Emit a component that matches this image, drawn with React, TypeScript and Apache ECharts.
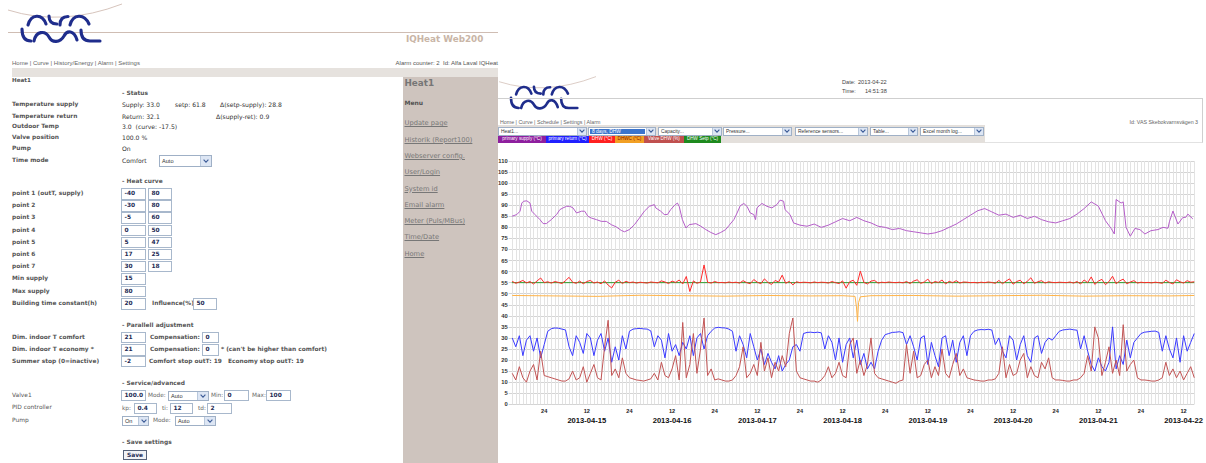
import React, { useEffect, useRef } from "react";
import * as echarts from "echarts";

// ---------------- chart data (hours since 2013-04-14 00:00) ----------------
const X_MIN = 14;
const X_MAX = 207;
const dateLabels = ["2013-04-15", "2013-04-16", "2013-04-17", "2013-04-18", "2013-04-19", "2013-04-20", "2013-04-21", "2013-04-22"];
const seriesNames = ["primary supply (°C)", "primary return (°C)", "DHW (°C)", "DHWC (°C)", "Valve DHW (%)", "DHW Setp (°C)"];

const hourlyStart = 15; // hourly samples 15..207

const returnValues = [
  30, 26, 31, 22, 29, 31, 24, 30, 21, 27,
  33, 34.2, 34.5, 34.4, 34, 33.6,
  26,
  22, 31, 28, 23, 32, 30, 22, 29, 32, 24, 30,
  19, 26, 20,
  31, 25, 33,
  34, 34.2, 34.3, 34.1, 34, 33.2,
  26, 31, 29, 21, 32, 24, 27, 22, 28, 25, 31, 22, 30, 32, 25, 31,
  33, 34.5, 34.8, 34.6, 34.5, 34, 33,
  24, 31, 27, 21, 32, 26, 20, 25, 18, 23, 19, 16, 22, 15, 18, 20,
  26, 27, 24,
  32, 32.5, 32.6, 32.4, 32.6, 32.3,
  25, 31, 28, 20, 30, 19, 27, 30, 21, 29, 18, 23, 16, 19, 16,
  24, 29, 31.5,
  32, 32.5, 32.6, 32.8, 32.4, 27,
  31, 26, 20, 30, 31, 18, 28, 22, 17, 30, 31, 22, 29, 19, 28, 31, 22,
  31, 33, 33.6, 33.8, 33.7, 33.9, 33.6, 27,
  30, 24, 21, 31, 29, 20, 27, 31, 22, 19, 30, 31, 23, 28,
  30, 29, 31, 33, 33.6, 33.8, 34, 33.7, 33.5, 25,
  31, 24, 18, 15, 21, 17, 15, 19, 35, 16, 22, 18, 29, 21, 28, 30,
  32, 32.6, 32.8, 33, 33.1, 32.5, 24,
  31, 25, 21, 30, 19, 31, 24, 28, 32,
];

const valveValues = [
  14, 11, 17, 12, 10, 15, 18, 11, 24, 13,
  12.5, 12, 11.5, 11, 10.5, 10.5, 11.5,
  15, 11, 12, 17, 10, 14, 18, 12, 11, 26, 38, 13, 16, 12, 21, 14, 12,
  11.5, 11, 10.8, 10.5, 11, 11.5,
  14, 11, 19, 13, 12, 16, 22, 11, 37, 12, 18, 32, 14, 25, 39, 13, 16, 11,
  11.5, 11, 10.5, 10.5, 11,
  13, 17, 26, 12, 14, 18, 13, 28, 15, 21, 12, 19, 15, 22, 17, 32, 39, 15, 12,
  11.5, 11, 10.5, 10.5, 10, 11,
  13, 17, 12, 14, 19, 13, 12, 27, 30, 14, 20, 13, 18, 30, 14, 12,
  11.5, 11, 10.5, 10, 9.5, 10.5, 11,
  27, 14, 24, 12, 13, 18, 20, 12, 17, 13, 25, 14, 12, 18, 23, 13, 16, 12,
  11.5, 11, 10.8, 10.5, 10.5, 11, 11, 11.5,
  14, 26, 12, 18, 13, 14, 20, 23, 12, 17, 13, 12, 19, 16, 21, 12,
  11, 11, 10.8, 10.5, 10.5, 11, 11, 12,
  14, 22, 15, 35, 30, 13, 19, 26, 14, 20, 13, 36, 15, 18, 20, 12,
  11, 11, 10.8, 10.5, 10.5, 11, 12,
  19, 13, 16, 12, 15, 11, 14, 17, 12,
];

const dhwValues = [
  55.6, 54.7, 55.3, 56.0, 54.9, 55.5, 54.4, 55.8, 57.1, 55.0, 55.4, 54.8, 55.5, 55.1, 54.6, 55.9, 57.4, 55.2, 54.7, 55.7, 54.5, 55.5, 56.0, 54.8,
  55.3, 54.5, 55.8, 53.9, 52.6, 55.2, 56.1, 54.6, 55.6, 55.0, 55.3, 54.8, 55.2, 55.0, 54.8, 55.3, 55.1, 54.9, 55.8, 55.3, 54.6, 55.7, 55.1, 56.2,
  54.4, 57.8, 51.0, 55.8, 54.7, 55.3, 63.0, 55.2, 54.8, 55.5, 55.0, 55.1, 54.9, 55.3, 55.0, 55.2, 54.8, 55.9, 55.0, 54.5, 56.4, 55.2, 54.5, 56.7,
  55.1, 54.2, 56.0, 55.3, 58.4, 54.7, 55.6, 54.0, 55.4, 55.0, 55.2, 55.1, 54.9, 55.3, 55.0, 55.2, 55.1, 54.8, 55.5, 55.0, 54.6, 55.8, 52.5, 55.4,
  56.1, 53.8, 60.2, 55.1, 54.4, 55.7, 56.0, 54.8, 55.2, 55.0, 55.3, 55.1, 55.0, 55.2, 54.9, 55.5, 54.6, 55.7, 56.3, 54.7, 55.3, 56.6, 54.6, 55.5,
  55.1, 56.2, 54.4, 55.6, 55.0, 55.9, 54.8, 55.3, 55.2, 55.0, 55.1, 54.9, 55.2, 55.0, 55.3, 55.1, 54.7, 56.0, 54.5, 55.7, 56.7, 54.3, 55.5, 56.1,
  54.5, 55.6, 57.2, 54.7, 55.4, 55.9, 54.8, 55.4, 55.1, 55.0, 55.2, 55.1, 55.0, 55.3, 54.8, 55.5, 54.4, 56.2, 55.0, 57.6, 54.2, 55.7, 56.5, 54.1,
  55.5, 57.9, 54.5, 55.8, 56.6, 54.5, 55.3, 55.9, 54.8, 55.2, 55.0, 55.1, 54.9, 55.2, 55.0, 54.7, 56.1, 55.1, 54.4, 56.3, 55.4, 54.8, 55.9, 55.2,
  55.4,
];

const supplyHours = [
  14.9, 16.3, 17.2, 17.7, 18.2, 19.1, 20, 20.5, 21.4, 22.8, 23.7, 24.6, 26, 27.5, 28.4, 29.3, 30.3, 31.2, 32.1, 33.1,
  34.5, 35.4, 36.3, 37.3, 38.7, 40.1, 41.5, 42.9, 44.3, 45.7, 46.6, 48, 49.4, 50.8, 52.2, 53.6, 55, 55.4, 56.8, 57.8,
  58.7, 59.6, 60.6, 61.5, 62, 62.9, 63.9, 64.8, 66.7, 68.1, 69.5, 70.9, 72.3, 73.7, 75.1, 76, 77.4, 78.3, 79.2, 80.2,
  81.1, 82, 83, 83.5, 83.9, 84.9, 85.3, 86.7, 88.1, 89.5, 90.4, 91.4, 91.8, 93.2, 94.2,
  96, 98, 100, 102, 104, 106, 108, 110, 112, 114, 116, 118, 120, 122, 124, 126, 128, 130, 132, 134,
  136, 138, 140, 142, 144, 146, 148, 150, 152, 154, 156, 158, 160, 162, 164, 166, 168, 170, 172, 174,
  176, 178, 180, 182, 183.6, 184.5, 185, 186.4, 187, 187.8, 189, 190.3, 191.7, 193.1, 194.8, 196.8, 198.2, 199.6, 200, 201,
  202.4, 203.8, 204.6, 205.2, 206.6,
];
const supplyValues = [
  85, 85.8, 87.3, 91, 91.8, 92, 91, 87.3, 85.8, 83.5, 81.7, 81.7, 83.5, 85.8, 88, 88.8, 89.5, 89.5, 88.8, 86.5,
  87.3, 87.3, 85, 84.2, 83.5, 82.7, 82.7, 81.2, 80.2, 78.6, 78, 79, 81.2, 84.2, 87.3, 89.5, 90.3, 88.8, 87.3, 85.8,
  85.8, 88, 89.8, 91, 89.5, 83.5, 79.7, 81.2, 81.7, 80.5, 79, 77.7, 76.7, 77.7, 79, 80.8, 83.5, 86.5, 89.8, 90.8,
  89.5, 86.5, 85.8, 83.5, 88.8, 90.3, 90.8, 89.5, 88.8, 90.3, 92.3, 91.8, 88, 85.8, 82,
  81, 80.5, 81.5, 80, 81, 82.5, 84, 83, 84.5, 83, 82, 80.5, 80, 79, 79.5, 78.5, 78, 77.5, 77, 77.5,
  78.5, 80, 81.5, 83.5, 85.5, 87.5, 88.5, 87, 85.5, 86, 84.5, 85.5, 84, 85, 83.5, 82.5, 82, 83, 84, 86,
  88.5, 91.5, 89.6, 83, 79.5, 77, 92.6, 91, 91.5, 80, 76, 79.5, 79, 77, 78.5, 79, 80, 79.6, 82.5, 87.4,
  81.5, 84.5, 84.5, 86, 83.8,
];

const dhwcHours = [15, 27, 39, 51, 63, 75, 87, 99, 108, 111.5, 111.9, 112.2, 112.5, 113, 116, 128, 140, 152, 164, 176, 188, 200, 207];
const dhwcValues = [49.2, 49.0, 48.8, 49.3, 49.1, 48.9, 49.2, 49.0, 49.1, 48.8, 44, 37.5, 46, 48.6, 49.1, 49.2, 48.9, 49.1, 49.3, 48.9, 49.1, 49.0, 49.2];

const setpHours = [14.9, 207];
const setpValues = [55, 55];

const heatCurve = [[-40, 80], [-30, 80], [-5, 60], [0, 50], [5, 47], [17, 25], [30, 18]];
const menuLinks = ["Update page", "Historik (Report100)", "Webserver config.", "User/Login", "System id", "Email alarm", "Meter (Puls/MBus)", "Time/Date", "Home"];
const selectTexts = ["Heat1...", "8 days, DHW", "Capacity...", "Pressure...", "Reference sensors...", "Table...", "Excel month log..."];

// ---------------- styling helpers ----------------
const VERD = "'DejaVu Sans', Verdana, sans-serif";
const ARIAL = "'Liberation Sans', Arial, sans-serif";

function T(props: any) {
  const { x, y, s = 5.9, b = false, c = "#555", f = VERD, u = false, right, children } = props;
  const st: any = {
    position: "absolute",
    top: y - s,
    height: s * 2,
    lineHeight: `${s * 2}px`,
    fontSize: s,
    fontWeight: b ? "bold" : "normal",
    color: c,
    fontFamily: f,
    whiteSpace: "pre",
    textDecoration: u ? "underline" : "none",
  };
  if (right !== undefined) st.right = right;
  else st.left = x;
  return <div style={st}>{children}</div>;
}

function Box(props: any) {
  const { x, y, w, h = 11.5, text } = props;
  return (
    <div
      style={{
        position: "absolute",
        left: x,
        top: y - h / 2,
        width: w,
        height: h,
        boxSizing: "border-box",
        border: "1px solid #a8b8cc",
        background: "#fff",
        fontFamily: VERD,
        fontWeight: "bold",
        fontSize: 5.9,
        color: "#1d2b55",
        lineHeight: `${h - 2}px`,
        paddingLeft: 2.5,
        whiteSpace: "pre",
      }}
    >
      {text}
    </div>
  );
}

function Chev() {
  return (
    <svg width="6" height="4" viewBox="0 0 6 4" style={{ display: "block" }}>
      <path d="M0.6 0.6 L3 3.2 L5.4 0.6" fill="none" stroke="#3d5c98" strokeWidth="1.1" />
    </svg>
  );
}

function Sel(props: any) {
  const { x, y, w, h = 12, text, s = 5.6, hi = false, aw = 10 } = props;
  return (
    <div
      style={{
        position: "absolute",
        left: x,
        top: y,
        width: w,
        height: h,
        boxSizing: "border-box",
        border: "1px solid #9fb0c6",
        background: "#fff",
        overflow: "hidden",
      }}
    >
      <div
        style={{
          position: "absolute",
          left: hi ? 1 : 0,
          top: hi ? 1 : 0,
          right: aw + (hi ? 2 : 0),
          bottom: hi ? 1 : 0,
          background: hi ? "#3b74cc" : "transparent",
          color: hi ? "#fff" : "#333",
          fontFamily: ARIAL,
          fontSize: s,
          lineHeight: `${h - (hi ? 4 : 2)}px`,
          paddingLeft: 2,
          whiteSpace: "pre",
        }}
      >
        {text}
      </div>
      <div
        style={{
          position: "absolute",
          right: 0,
          top: 0,
          width: aw,
          height: "100%",
          background: "#dde6f4",
          borderLeft: "1px solid #b9c8dc",
          display: "flex",
          alignItems: "center",
          justifyContent: "center",
        }}
      >
        <Chev />
      </div>
    </div>
  );
}

function LogoPaths() {
  const st = { fill: "none", stroke: "#1f2d8c", strokeWidth: 3.1, strokeLinecap: "round" as const, strokeLinejoin: "round" as const };
  return (
    <g>
      <path d="M8,10 Q62,27 122,4" fill="none" stroke="#cbb5ab" strokeWidth="0.8" />
      <path d="M28,25 C31,14 42,13 46,24" {...st} />
      <path d="M49,16 Q49,24 57,24" {...st} />
      <path d="M60,25 Q60,16.5 68,16.5" {...st} />
      <path d="M70,25 C73,14 84,13 89,24" {...st} />
      <path d="M22,29 Q22,41 31,41" {...st} />
      <path d="M34,41 C36,31 45,30 49,37 C52,43 60,43 64,36 C67,30 74,30 77,40" {...st} />
      <path d="M81,30 Q81,41 90,41 L100,41" {...st} />
    </g>
  );
}

// ---------------- chart ----------------
function Chart() {
  const ref = useRef<HTMLDivElement>(null);
  useEffect(() => {
    const chart = echarts.init(ref.current as HTMLDivElement, null, { renderer: "svg" });
    const hourly = returnValues.map((_, i) => hourlyStart + i);
    const zip = (xs: number[], ys: number[]) => xs.map((x, i) => [x, ys[i]]);
    const line = (name: string, data: any[], color: string, z: number) => ({
      name,
      type: "line",
      data,
      symbol: "none",
      showSymbol: false,
      silent: true,
      z,
      lineStyle: { width: 1, color },
      itemStyle: { color },
    });
    chart.setOption({
      animation: false,
      textStyle: { fontFamily: ARIAL },
      grid: { left: 11.9, right: 9.5, top: 16, bottom: 58.7, containLabel: false },
      xAxis: {
        type: "value",
        min: X_MIN,
        max: X_MAX,
        interval: 1,
        axisLine: { show: false },
        axisTick: { show: false },
        splitLine: { show: true, showMinLine: false, lineStyle: { color: "#e3e3e3", width: 1 } },
        axisLabel: {
          margin: 3,
          showMinLabel: true,
          showMaxLabel: true,
          formatter: (v: number) => {
            const r = Math.round(v) % 24;
            if (r === 0) return "{h|24}";
            if (r === 12) return "{h|12}\n{d|" + dateLabels[Math.floor(v / 24) - 1] + "}";
            return "";
          },
          rich: {
            h: { fontSize: 5.6, fontWeight: "bold", color: "#222", lineHeight: 8, fontFamily: ARIAL },
            d: { fontSize: 7.6, fontWeight: "bold", color: "#111", lineHeight: 10, fontFamily: ARIAL },
          },
        },
      },
      yAxis: {
        type: "value",
        min: 0,
        max: 110,
        interval: 5,
        axisLine: { show: false },
        axisTick: { show: false },
        splitLine: { show: true, lineStyle: { color: "#d4d4d4", width: 1 } },
        axisLabel: { fontSize: 5.8, fontWeight: "bold", color: "#333", margin: 1, fontFamily: ARIAL },
      },
      series: [
        line(seriesNames[5], zip(setpHours, setpValues), "#2e9e2e", 2),
        line(seriesNames[0], zip(supplyHours, supplyValues), "#b45ec8", 3),
        line(seriesNames[2], zip(hourly, dhwValues), "#ff2b2b", 4),
        line(seriesNames[3], zip(dhwcHours, dhwcValues), "#ffb347", 5),
        line(seriesNames[1], zip(hourly, returnValues), "#3a3aff", 6),
        line(seriesNames[4], zip(hourly, valveValues), "#c25454", 7),
      ],
    });
    return () => chart.dispose();
  }, []);
  return <div ref={ref} style={{ position: "absolute", left: 495, top: 145, width: 711, height: 318 }} />;
}

// ---------------- page ----------------
export default function App() {
  const labelRows: [string, number, boolean][] = [
    ["Temperature supply", 105, true],
    ["Temperature return", 116.7, true],
    ["Outdoor Temp", 127.2, true],
    ["Valve position", 138, true],
    ["Pump", 149, true],
    ["Time mode", 160.7, true],
    ["point 1 (outT, supply)", 194, true],
    ["point 2", 206.1, true],
    ["point 3", 218.3, true],
    ["point 4", 230.5, true],
    ["point 5", 242.7, true],
    ["point 6", 254.9, true],
    ["point 7", 266.6, true],
    ["Min supply", 279, true],
    ["Max supply", 291.6, true],
    ["Building time constant(h)", 304, true],
    ["Dim. indoor T comfort", 337.7, true],
    ["Dim. indoor T economy *", 350, true],
    ["Summer stop (0=inactive)", 361.7, true],
    ["Valve1", 395.7, false],
    ["PID controller", 408.3, false],
    ["Pump", 421, false],
  ];
  const legendColors = [
    ["#8e1f9e", "#fff"],
    ["#2020ff", "#fff"],
    ["#ff2020", "#fff"],
    ["#f2a024", "#8a1500"],
    ["#c0504f", "#fff"],
    ["#1e8a1e", "#fff"],
  ];
  const legendX = [498, 546, 589, 615, 644, 684, 721];
  const selX = [498, 588, 658, 723, 795, 870, 920];
  const selW = [89, 68, 64, 69, 73, 48, 64];

  return (
    <div
      style={{
        position: "fixed",
        left: 0,
        top: 0,
        width: 1206,
        height: 463,
        overflow: "hidden",
        background: "#fff",
        fontFamily: VERD,
      }}
    >
      {/* ---------- left page header ---------- */}
      <div style={{ position: "absolute", left: 8, top: 32, width: 490, height: 1, background: "#cfbdb3" }} />
      <svg width="200" height="50" style={{ position: "absolute", left: 0, top: 0 }}>
        <LogoPaths />
      </svg>
      <T x={406} y={40} s={8.8} b c="#c9b5a6">IQHeat Web200</T>
      <T x={12} y={63} s={6} f={ARIAL} c="#666">Home | Curve | History/Energy | Alarm | Settings</T>
      <T right={1206 - 498} y={63} s={6} f={ARIAL} c="#555">Alarm counter: 2  Id: Alfa Laval IQHeat</T>
      <div style={{ position: "absolute", left: 12, top: 68, width: 486, height: 9, background: "#e6e2de" }} />

      {/* ---------- left form ---------- */}
      <T x={12} y={81} s={5.6} b c="#555">Heat1</T>
      <T x={122} y={94} b>- Status</T>
      {labelRows.map(([t, y, b], i) => (
        <T key={i} x={12} y={y} b={b} c="#555">{t}</T>
      ))}
      <T x={122} y={105} s={6.1} c="#333">Supply: 33.0</T>
      <T x={175} y={105} s={6.1} c="#333">setp: 61.8</T>
      <T x={220} y={105} s={6.1} c="#333">Δ(setp-supply): 28.8</T>
      <T x={122} y={116.7} s={6.1} c="#333">Return: 32.1</T>
      <T x={216} y={116.7} s={6.1} c="#333">Δ(supply-ret): 0.9</T>
      <T x={122} y={127.2} s={6.1} c="#333">3.0  (curve: -17.5)</T>
      <T x={122} y={138} s={6.1} c="#333">100.0 %</T>
      <T x={122} y={149} s={6.1} c="#333">On</T>
      <T x={122} y={160.7} s={6.1} c="#333">Comfort</T>
      <Sel x={159} y={154.5} w={53} h={12.5} text="Auto" />

      <T x={122} y={182.3} b>- Heat curve</T>
      {heatCurve.map((p, i) => (
        <React.Fragment key={i}>
          <Box x={121} y={194 + i * 12.1} w={25} text={String(p[0])} />
          <Box x={148} y={194 + i * 12.1} w={24} text={String(p[1])} />
        </React.Fragment>
      ))}
      <Box x={121} y={279} w={25} text="15" />
      <Box x={121} y={291.6} w={25} text="80" />
      <Box x={121} y={304} w={25} text="20" />
      <T x={152} y={304} b>Influence(%)</T>
      <Box x={193} y={304} w={24} text="50" />

      <T x={122} y={325.7} b>- Parallell adjustment</T>
      <Box x={121} y={337.7} w={25} text="21" />
      <T x={150} y={337.7} b>Compensation:</T>
      <Box x={202} y={337.7} w={17} text="0" />
      <Box x={121} y={350} w={25} text="21" />
      <T x={150} y={350} b>Compensation:</T>
      <Box x={202} y={350} w={17} text="0" />
      <T x={221} y={350} b>* (can't be higher than comfort)</T>
      <Box x={121} y={361.7} w={25} text="-2" />
      <T x={149} y={361.7} b>Comfort stop outT: 19   Economy stop outT: 19</T>

      <T x={122} y={384} b>- Service/advanced</T>
      <Box x={121} y={395.7} w={25} h={10.5} text="100.0" />
      <T x={148} y={395.7} s={5.8} c="#666">Mode:</T>
      <Sel x={168} y={390.5} w={41} h={10.5} text="Auto" />
      <T x={211} y={395.7} s={5.8} c="#666">Min:</T>
      <Box x={224} y={395.7} w={25} h={10.5} text="0" />
      <T x={252} y={395.7} s={5.8} c="#666">Max:</T>
      <Box x={266} y={395.7} w={25} h={10.5} text="100" />
      <T x={122} y={408.3} s={5.8} c="#666">kp:</T>
      <Box x={134} y={408.3} w={23} h={10.5} text="0.4" />
      <T x={162} y={408.3} s={5.8} c="#666">ti:</T>
      <Box x={170} y={408.3} w={23} h={10.5} text="12" />
      <T x={198} y={408.3} s={5.8} c="#666">td:</T>
      <Box x={207} y={408.3} w={25} h={10.5} text="2" />
      <Sel x={122} y={415.8} w={27} h={10.5} text="On" aw={9} />
      <T x={153} y={421} s={5.8} c="#666">Mode:</T>
      <Sel x={175} y={415.8} w={41} h={10.5} text="Auto" />

      <T x={122} y={442.7} b>- Save settings</T>
      <div
        style={{
          position: "absolute",
          left: 123,
          top: 449.5,
          width: 24,
          height: 10,
          boxSizing: "border-box",
          border: "1px solid #55627a",
          background: "#f1f3f7",
          fontFamily: VERD,
          fontWeight: "bold",
          fontSize: 5.9,
          color: "#1d2b55",
          lineHeight: "8px",
          textAlign: "center",
        }}
      >
        Save
      </div>

      {/* ---------- menu panel ---------- */}
      <div style={{ position: "absolute", left: 403, top: 77, width: 95, height: 386, background: "#cec4be" }} />
      <T x={404.5} y={83.5} s={8.8} b c="#767676">Heat1</T>
      <T x={404.5} y={103} s={6} b c="#505050">Menu</T>
      {menuLinks.map((t, i) => (
        <T key={i} x={404.5} y={124 + i * 16.3} s={6.7} c="#777" u>{t}</T>
      ))}

      {/* ---------- right page header ---------- */}
      <div style={{ position: "absolute", left: 498, top: 60, width: 150, height: 55, overflow: "hidden" }}>
        <svg width="150" height="55" style={{ position: "absolute", left: 0, top: 0 }}>
          <g transform="translate(-5.7,13.2) scale(0.85)">
            <LogoPaths />
          </g>
        </svg>
      </div>
      <div
        style={{
          position: "absolute",
          left: 498,
          top: 98,
          width: 705,
          height: 45,
          boxSizing: "border-box",
          borderTop: "1px solid #cfcfcf",
          borderRight: "1px solid #cfcfcf",
          borderBottom: "1px solid #e2e2e2",
        }}
      />
      <T x={842} y={83} s={5.6} f={ARIAL} c="#444">Date:</T>
      <T x={858} y={83} s={5.6} f={ARIAL} c="#444">2013-04-22</T>
      <T x={842} y={92} s={5.6} f={ARIAL} c="#444">Time:</T>
      <T x={865} y={92} s={5.6} f={ARIAL} c="#444">14:51:38</T>
      <T x={500} y={122.5} s={5.3} f={ARIAL} c="#666">Home | Curve | Schedule | Settings | Alarm</T>
      <T right={8} y={122.5} s={5.3} f={ARIAL} c="#666">Id: VAS Skebokvarnsvägen 3</T>
      <div style={{ position: "absolute", left: 498, top: 125, width: 487, height: 18, background: "#e4e0dc" }} />
      {selectTexts.map((t, i) => (
        <Sel key={i} x={selX[i]} y={126.5} w={selW[i]} h={9} s={4.9} aw={8} hi={i === 1} text={t} />
      ))}
      {seriesNames.map((n, i) => (
        <div
          key={i}
          style={{
            position: "absolute",
            left: legendX[i],
            top: 135.8,
            width: legendX[i + 1] - legendX[i],
            height: 6.8,
            background: legendColors[i][0],
            color: legendColors[i][1],
            fontFamily: ARIAL,
            fontSize: 4.6,
            lineHeight: "6.8px",
            whiteSpace: "pre",
            overflow: "hidden",
            textAlign: "center",
          }}
        >
          {n}
        </div>
      ))}

      <Chart />
    </div>
  );
}
